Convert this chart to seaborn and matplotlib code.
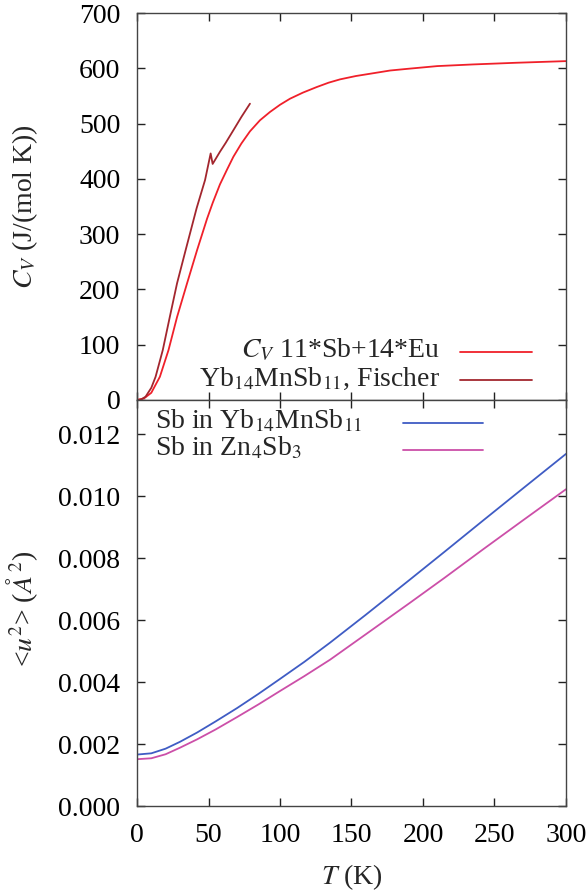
import numpy as np
import pandas as pd
import matplotlib
matplotlib.use("Agg")
import matplotlib.pyplot as plt
import seaborn as sns

# heat capacity, model 11*Sb + 14*Eu
cv_T = [0, 5, 10, 16, 22, 28, 35, 42, 49, 53, 58, 63, 67.4, 73, 79, 86, 93, 100,
        107, 116, 125.6, 134, 142, 153, 165, 177, 189, 210, 235, 265, 300]
cv_model = [0, 3, 13, 42, 90, 150, 211, 271, 328, 357, 390, 417, 440, 464, 486,
            506, 521, 534, 545, 556, 566, 574, 580, 586, 591, 596, 599, 604, 607, 610, 613]

# Yb14MnSb11 measured (Fischer)
fis_T = [0, 3, 6, 10, 13, 18, 23, 28, 34, 41.7, 47.6, 51.5, 52.9, 58, 62, 67.4, 73, 79]
fis_cv = [0, 1, 6, 22, 42, 90, 151, 211, 271, 347, 398, 446, 427, 449, 465, 488, 512, 536]

# mean square displacement of Sb
u_T = [0, 10, 20, 30, 42, 55, 70, 85, 100, 117, 135, 160, 191, 215, 242, 270, 300]
u_yb = [0.00166, 0.00170, 0.00185, 0.00207, 0.00237, 0.00273, 0.00316, 0.00362,
        0.00410, 0.00465, 0.00527, 0.00617, 0.00731, 0.00820, 0.00921, 0.01025, 0.01136]
u_zn = [0.00151, 0.00154, 0.00167, 0.00188, 0.00215, 0.00247, 0.00287, 0.00328,
        0.00371, 0.00419, 0.00472, 0.00554, 0.00656, 0.00736, 0.00828, 0.00922, 0.01022]

labels_top = [r"$C_V$ 11*Sb+14*Eu", r"Yb$_{14}$MnSb$_{11}$, Fischer"]
labels_bot = [r"Sb in Yb$_{14}$MnSb$_{11}$", r"Sb in Zn$_4$Sb$_3$"]

RED = "#f0202a"
DARKRED = "#a3262e"
BLUE = "#3f5cc4"
MAGENTA = "#cc4fa8"
FS = 20

sns.set_theme(style="ticks")
plt.rcParams["font.family"] = ["Liberation Serif", "DejaVu Serif"]
plt.rcParams["mathtext.fontset"] = "stix"
plt.rcParams["font.size"] = FS

fig = plt.figure(figsize=(5.87, 8.92), dpi=100)
ax1 = fig.add_axes([0.2334, 0.5516, 0.7308, 0.4338])
ax2 = fig.add_axes([0.2334, 0.0964, 0.7308, 0.4552])

# top panel
df_model = pd.DataFrame({"T": cv_T, "Cv": cv_model})
df_fis = pd.DataFrame({"T": fis_T, "Cv": fis_cv})
sns.lineplot(data=df_model, x="T", y="Cv", ax=ax1, color=RED, lw=1.3, sort=False)
sns.lineplot(data=df_fis, x="T", y="Cv", ax=ax1, color=DARKRED, lw=1.3, sort=False)
ax1.set_xlim(0, 300)
ax1.set_ylim(0, 700)
ax1.set_yticks(range(0, 701, 100))
ax1.set_xticks(range(0, 301, 50))
ax1.set_xticklabels([])
ax1.set_xlabel("")
ax1.set_ylabel(r"$C_V$ (J/(mol K))", fontsize=FS)

# bottom panel
df_u = pd.DataFrame({"T": u_T + u_T,
                     "u2": u_yb + u_zn,
                     "series": [labels_bot[0]] * len(u_T) + [labels_bot[1]] * len(u_T)})
sns.lineplot(data=df_u, x="T", y="u2", hue="series", ax=ax2,
             palette=[BLUE, MAGENTA], lw=1.3, legend=False)
ax2.set_xlim(0, 300)
ax2.set_ylim(0, 0.0131)
yt = np.arange(0, 0.0121, 0.002)
ax2.set_yticks(yt)
ax2.set_yticklabels([f"{v:.3f}" for v in yt])
ax2.set_xticks(range(0, 301, 50))
ax2.set_xlabel(r"$T$ (K)", fontsize=FS)
ax2.set_ylabel(r"<$u^2$> ($\mathit{Å}^2$)", fontsize=FS)

# gnuplot style keys
# top: right-justified text, sample to the right
for i, (lab, col) in enumerate(zip(labels_top, [RED, DARKRED])):
    yy = 0.124 - i * 0.0725
    ax1.text(0.706, yy - 0.0142, lab, transform=ax1.transAxes, ha="right",
             va="baseline", fontsize=FS)
    ax1.plot([0.753, 0.921], [yy, yy], transform=ax1.transAxes, color=col, lw=1.3)

# bottom: left-justified text, samples in a column
for i, (lab, col) in enumerate(zip(labels_bot, [BLUE, MAGENTA])):
    yy = 0.944 - i * 0.067
    ax2.text(0.042, yy - 0.0135, lab, transform=ax2.transAxes, ha="left",
             va="baseline", fontsize=FS)
    ax2.plot([0.619, 0.8055], [yy, yy], transform=ax2.transAxes, color=col, lw=1.3)

for ax in (ax1, ax2):
    ax.tick_params(direction="in", length=6, width=1, top=True, right=True,
                   labelsize=FS, colors="#222222", labelcolor="black")
    ax.tick_params(axis="y", pad=12)
    ax.tick_params(axis="x", pad=12)
    for sp in ax.spines.values():
        sp.set_linewidth(1)
        sp.set_color("#444444")

ax1.yaxis.set_label_coords(-0.226, 0.5)
ax2.yaxis.set_label_coords(-0.226, 0.485)
ax2.xaxis.set_label_coords(0.5, -0.138)

fig.savefig("out.png", dpi=100)
